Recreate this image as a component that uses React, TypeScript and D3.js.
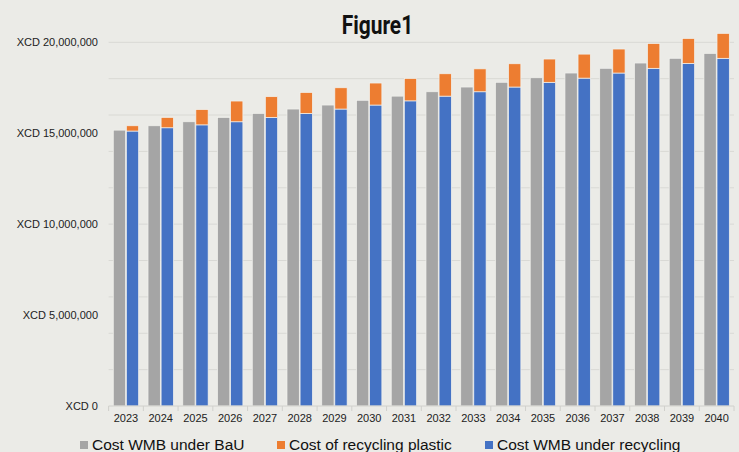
import React, { useEffect, useRef } from 'react';
import * as d3 from 'd3';

// values in millions of XCD
const years = ['2023', '2024', '2025', '2026', '2027', '2028', '2029', '2030', '2031',
  '2032', '2033', '2034', '2035', '2036', '2037', '2038', '2039', '2040'];
const costBaU = [15.17, 15.41, 15.63, 15.87, 16.09, 16.33, 16.55, 16.81, 17.04,
  17.28, 17.54, 17.80, 18.05, 18.31, 18.57, 18.86, 19.12, 19.39];
const costRecycling = [15.12, 15.30, 15.46, 15.63, 15.87, 16.09, 16.33, 16.55, 16.78,
  17.04, 17.28, 17.54, 17.80, 18.03, 18.31, 18.57, 18.84, 19.12];
const costRecyclingPlastic = [0.29, 0.57, 0.84, 1.14, 1.14, 1.15, 1.17, 1.21, 1.23,
  1.23, 1.26, 1.28, 1.28, 1.32, 1.32, 1.36, 1.37, 1.37];
const gridTicks = [2, 4, 6, 8, 10, 12, 14, 16, 18, 20];
const labelTicks = [0, 5, 10, 15, 20];
const legendItems = [
  { label: 'Cost WMB under BaU', color: '#a5a5a5', x: 80 },
  { label: 'Cost of recycling plastic', color: '#ed7d31', x: 277 },
  { label: 'Cost WMB under recycling', color: '#4472c4', x: 485 },
];

const W = 739;
const H = 452;
const FONT = 'Liberation Sans, Arial, sans-serif';

const App: React.FC = () => {
  const ref = useRef<HTMLDivElement | null>(null);

  useEffect(() => {
    if (!ref.current) return;
    d3.select(ref.current).selectAll('*').remove();

    const svg = d3.select(ref.current)
      .append('svg')
      .attr('width', W)
      .attr('height', H)
      .style('display', 'block');

    svg.append('rect').attr('width', W).attr('height', H).attr('fill', '#ebebe7');

    const left = 108.6, right = 734, top = 42.3, bottom = 406;

    const x = d3.scaleBand().domain(years).range([left, right]).paddingInner(0.27).paddingOuter(0.135);
    const inner = d3.scaleBand().domain(['bau', 'rec']).range([0, x.bandwidth()]).paddingInner(0.06);
    const y = d3.scaleLinear().domain([0, 20]).range([bottom, top]);

    // gridlines
    svg.append('g')
      .selectAll('line')
      .data(gridTicks)
      .enter()
      .append('line')
      .attr('x1', left)
      .attr('x2', right)
      .attr('y1', d => y(d))
      .attr('y2', d => y(d))
      .attr('stroke', '#d9d9d5')
      .attr('stroke-width', 1);

    // y labels
    svg.append('g')
      .selectAll('text')
      .data(labelTicks)
      .enter()
      .append('text')
      .attr('x', 98)
      .attr('y', d => y(d))
      .attr('dy', '0.35em')
      .attr('text-anchor', 'end')
      .attr('font-family', FONT)
      .attr('font-size', 11)
      .attr('fill', '#222')
      .text(d => 'XCD ' + d3.format(',')(d * 1000000));

    const bars = svg.append('g');
    const stroke = '#f2f2ee';

    bars.selectAll('rect.bau')
      .data(years)
      .enter()
      .append('rect')
      .attr('class', 'bau')
      .attr('x', d => (x(d) || 0) + (inner('bau') || 0))
      .attr('y', (d, i) => y(costBaU[i]))
      .attr('width', inner.bandwidth())
      .attr('height', (d, i) => bottom - y(costBaU[i]))
      .attr('fill', '#a5a5a5')
      .attr('stroke', stroke)
      .attr('stroke-width', 0.7);

    bars.selectAll('rect.rec')
      .data(years)
      .enter()
      .append('rect')
      .attr('class', 'rec')
      .attr('x', d => (x(d) || 0) + (inner('rec') || 0))
      .attr('y', (d, i) => y(costRecycling[i]))
      .attr('width', inner.bandwidth())
      .attr('height', (d, i) => bottom - y(costRecycling[i]))
      .attr('fill', '#4472c4')
      .attr('stroke', stroke)
      .attr('stroke-width', 0.7);

    bars.selectAll('rect.plastic')
      .data(years)
      .enter()
      .append('rect')
      .attr('class', 'plastic')
      .attr('x', d => (x(d) || 0) + (inner('rec') || 0))
      .attr('y', (d, i) => y(costRecycling[i] + costRecyclingPlastic[i]))
      .attr('width', inner.bandwidth())
      .attr('height', (d, i) => y(costRecycling[i]) - y(costRecycling[i] + costRecyclingPlastic[i]))
      .attr('fill', '#ed7d31')
      .attr('stroke', stroke)
      .attr('stroke-width', 0.7);

    // x axis
    const step = x.step();
    const xAxis = svg.append('g');
    xAxis.append('line')
      .attr('x1', left).attr('x2', right)
      .attr('y1', bottom).attr('y2', bottom)
      .attr('stroke', '#d0d0cc');
    xAxis.selectAll('line.tick')
      .data(d3.range(years.length + 1))
      .enter()
      .append('line')
      .attr('class', 'tick')
      .attr('x1', i => left + i * step)
      .attr('x2', i => left + i * step)
      .attr('y1', bottom)
      .attr('y2', bottom + 5)
      .attr('stroke', '#d0d0cc');
    xAxis.selectAll('text')
      .data(years)
      .enter()
      .append('text')
      .attr('x', d => (x(d) || 0) + x.bandwidth() / 2)
      .attr('y', 422)
      .attr('text-anchor', 'middle')
      .attr('font-family', FONT)
      .attr('font-size', 11)
      .attr('fill', '#222')
      .text(d => d);

    // title
    svg.append('text')
      .attr('x', 341.7)
      .attr('y', 33.5)
      .attr('font-family', 'Roboto, sans-serif')
      .attr('font-weight', 'bold')
      .attr('font-size', 25)
      .attr('textLength', 71.5)
      .attr('lengthAdjust', 'spacingAndGlyphs')
      .attr('fill', '#111')
      .text('Figure1');

    // legend
    const legend = svg.append('g');
    legendItems.forEach(item => {
      legend.append('rect')
        .attr('x', item.x)
        .attr('y', 441)
        .attr('width', 8)
        .attr('height', 8)
        .attr('fill', item.color);
      legend.append('text')
        .attr('x', item.x + 12)
        .attr('y', 449.5)
        .attr('font-family', FONT)
        .attr('font-size', 15.5)
        .attr('fill', '#111')
        .text(item.label);
    });
  }, []);

  return <div ref={ref} style={{ position: 'absolute', left: 0, top: 0 }} />;
};

export default App;
